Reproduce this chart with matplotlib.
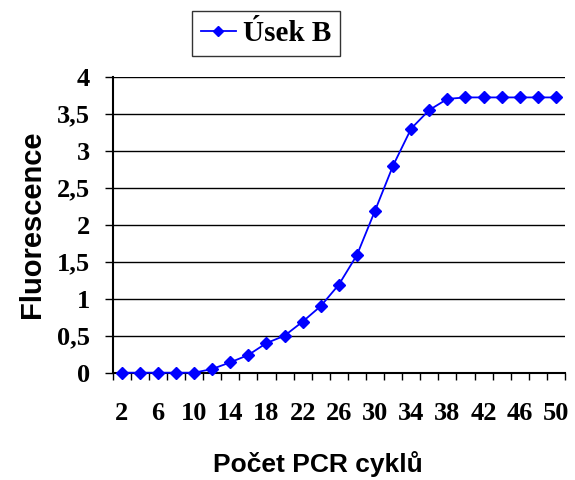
import matplotlib
matplotlib.use("Agg")
import matplotlib.pyplot as plt
import numpy as np

cycles = [2, 4, 6, 8, 10, 12, 14, 16, 18, 20, 22, 24, 26, 28, 30, 32, 34, 36, 38, 40, 42, 44, 46, 48, 50]
fluor = [0, 0, 0, 0, 0, 0.05, 0.14, 0.24, 0.40, 0.50, 0.69, 0.90, 1.19, 1.59, 2.19, 2.80, 3.30, 3.55, 3.70, 3.72, 3.72, 3.72, 3.72, 3.72, 3.72]
yticks = [0, 0.5, 1, 1.5, 2, 2.5, 3, 3.5, 4]
ytick_labels = ["0", "0,5", "1", "1,5", "2", "2,5", "3", "3,5", "4"]
series_name = "Úsek B"
xlabel = "Počet PCR cyklů"
ylabel = "Fluorescence"

W, H = 575, 480
L, R, T, B = 112.7, 565, 76.7, 372.7
fig = plt.figure(figsize=(W/100, H/100), dpi=100)
ax = fig.add_axes([L/W, 1-B/H, (R-L)/W, (B-T)/H])
aw, ah = R-L, B-T

idx = np.arange(len(cycles))
line, = ax.plot(idx, fluor, color="#0000FF", lw=1.3, marker="D", markersize=6,
                markerfacecolor="#0000FF", markeredgecolor="#0000FF", zorder=5, clip_on=False)

ax.set_xlim(-0.5, len(cycles) - 0.5)
ax.set_ylim(0, 4)
for y in yticks:
    ax.axhline(y, color="black", lw=1.0, zorder=1)

ax.set_yticks(yticks)
ax.set_yticklabels(ytick_labels)
ax.set_xticks(idx[::2])
ax.set_xticklabels([str(c) for c in cycles[::2]])
ax.set_xticks(np.arange(len(cycles) + 1) - 0.5, minor=True)
ax.tick_params(axis="x", which="major", length=0, pad=21)
ax.tick_params(axis="x", which="minor", length=5, width=1.0, direction="out", color="black")
ax.tick_params(axis="y", length=5.5, width=1.0, direction="out", pad=11)

for lab in ax.get_xticklabels() + ax.get_yticklabels():
    lab.set_fontfamily("Liberation Serif")
    lab.set_fontweight("bold")
    lab.set_fontsize(19)

for s in ["top", "right"]:
    ax.spines[s].set_visible(False)
ax.spines["left"].set_linewidth(1.5)
ax.spines["bottom"].set_linewidth(1.5)

ax.set_ylabel(ylabel, fontfamily="Liberation Sans", fontweight="bold", fontsize=21)
ax.yaxis.set_label_coords((46 - L)/aw, 0.5)
ax.set_xlabel(xlabel, fontfamily="Liberation Sans", fontweight="bold", fontsize=19)
ax.xaxis.set_label_coords((318 - L)/aw, -(451 - B)/ah)

leg = fig.legend([line], [series_name], loc="center", bbox_to_anchor=(266/W, 1-33.5/H),
                 prop={"family": "Liberation Serif", "weight": "bold", "size": 21},
                 frameon=True, fancybox=False, edgecolor="black", handlelength=1.2,
                 handletextpad=0.25, borderpad=0.3, borderaxespad=0, markerscale=0.8)
leg.get_frame().set_linewidth(1.0)

fig.savefig("out.png", dpi=100, facecolor="white")
